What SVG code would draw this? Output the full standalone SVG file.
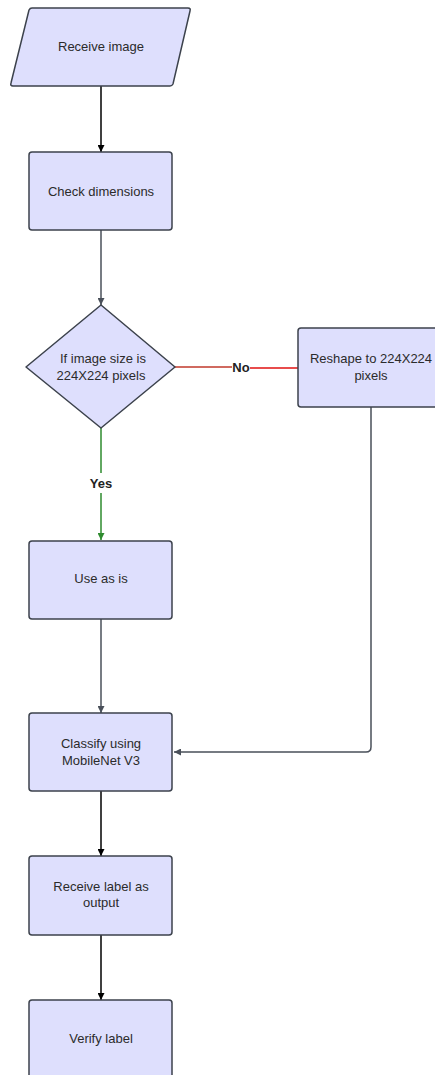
<svg xmlns="http://www.w3.org/2000/svg" width="435" height="1075" viewBox="0 0 435 1075">
  <style>
    .shape { fill: #dedffd; stroke: #3c424c; stroke-width: 1.5; }
    .lbl { font-family: "Liberation Sans", Arial, sans-serif; font-size: 13px; fill: #2b2b2b; text-anchor: middle; }
    .edge-lbl { font-family: "Liberation Sans", Arial, sans-serif; font-size: 13px; font-weight: bold; fill: #222; text-anchor: middle; }
    .edge { fill: none; stroke-width: 1.5; }
  </style>
  <defs>
    <marker id="arrBlack" viewBox="0 0 10 10" refX="10" refY="5" markerWidth="7" markerHeight="7" markerUnits="userSpaceOnUse" orient="auto">
      <path d="M0,0 L10,5 L0,10 z" fill="#000"/>
    </marker>
    <marker id="arrGray" viewBox="0 0 10 10" refX="10" refY="5" markerWidth="7" markerHeight="7" markerUnits="userSpaceOnUse" orient="auto">
      <path d="M0,0 L10,5 L0,10 z" fill="#4a505a"/>
    </marker>
    <marker id="arrGreen" viewBox="0 0 10 10" refX="10" refY="5" markerWidth="7" markerHeight="7" markerUnits="userSpaceOnUse" orient="auto">
      <path d="M0,0 L10,5 L0,10 z" fill="#2e8b2e"/>
    </marker>
  </defs>

  <g id="connectors">
    <line class="edge" x1="101" y1="86" x2="101" y2="152" stroke="#000" marker-end="url(#arrBlack)"/>
    <line class="edge" x1="101" y1="230" x2="101" y2="305" stroke="#4a505a" marker-end="url(#arrGray)"/>
    <!-- No branch -->
    <line class="edge" x1="175" y1="367" x2="232" y2="367" stroke="#c0392b" stroke-width="1.2"/>
    <line class="edge" x1="250" y1="368" x2="298" y2="368" stroke="#e01010"/>
    <text class="edge-lbl" x="241" y="372">No</text>
    <!-- Yes branch -->
    <line class="edge" x1="101" y1="428" x2="101" y2="473" stroke="#2e8b2e"/>
    <line class="edge" x1="101" y1="493" x2="101" y2="540" stroke="#2e8b2e" marker-end="url(#arrGreen)"/>
    <text class="edge-lbl" x="101" y="488">Yes</text>
    <line class="edge" x1="101" y1="619" x2="101" y2="713" stroke="#4a505a" marker-end="url(#arrGray)"/>
    <path class="edge" d="M371,407 L371,747 Q371,752 366,752 L174,752" stroke="#4a505a" marker-end="url(#arrGray)"/>
    <line class="edge" x1="101" y1="791" x2="101" y2="856" stroke="#000" marker-end="url(#arrBlack)"/>
    <line class="edge" x1="101" y1="935" x2="101" y2="1000" stroke="#000" marker-end="url(#arrBlack)"/>
  </g>

  <g id="receive-image">
    <path class="shape" d="M32,8 L188,8 Q191,8 190,11 L173,84 Q172,86 170,86 L13,86 Q10,86 11,83 L29,10 Q30,8 32,8 z"/>
    <text class="lbl" x="101" y="51">Receive image</text>
  </g>

  <g id="check-dimensions">
    <rect class="shape" x="29" y="152" width="143" height="78" rx="3"/>
    <text class="lbl" x="101" y="196">Check dimensions</text>
  </g>

  <g id="size-decision">
    <path class="shape" d="M101,305 L175,367 L101,428 L26,367 z" stroke-linejoin="round"/>
    <text class="lbl" x="103" y="363">If image size is</text>
    <text class="lbl" x="101" y="380">224X224 pixels</text>
  </g>

  <g id="reshape">
    <rect class="shape" x="298" y="328" width="145" height="79" rx="3"/>
    <text class="lbl" x="371" y="363">Reshape to 224X224</text>
    <text class="lbl" x="371" y="380">pixels</text>
  </g>

  <g id="use-as-is">
    <rect class="shape" x="29" y="541" width="143" height="78" rx="3"/>
    <text class="lbl" x="101" y="583">Use as is</text>
  </g>

  <g id="classify">
    <rect class="shape" x="29" y="713" width="143" height="78" rx="3"/>
    <text class="lbl" x="101" y="748">Classify using</text>
    <text class="lbl" x="101" y="765">MobileNet V3</text>
  </g>

  <g id="receive-label">
    <rect class="shape" x="29" y="856" width="143" height="79" rx="3"/>
    <text class="lbl" x="101" y="891">Receive label as</text>
    <text class="lbl" x="101" y="907">output</text>
  </g>

  <g id="verify-label">
    <rect class="shape" x="29" y="1000" width="143" height="80" rx="3"/>
    <text class="lbl" x="101" y="1043">Verify label</text>
  </g>
</svg>
